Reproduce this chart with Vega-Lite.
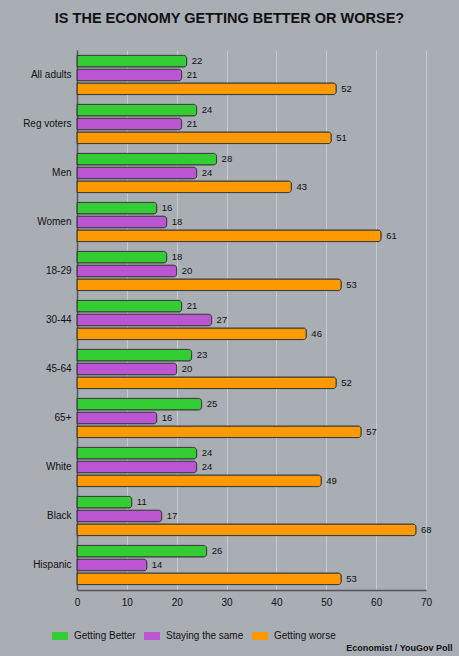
{
  "$schema": "https://vega.github.io/schema/vega-lite/v6.json",
  "autosize": "none",
  "width": 349,
  "height": 540,
  "padding": {"left": 77, "top": 50, "right": 33, "bottom": 66},
  "background": "#a9adb4",
  "title": {
    "text": "IS THE ECONOMY GETTING BETTER OR WORSE?",
    "font": "Liberation Sans",
    "fontSize": 14.5,
    "fontWeight": "bold",
    "color": "#111111",
    "anchor": "middle",
    "dx": -22,
    "offset": 24
  },
  "data": {
    "values": [
      {"group": "All adults", "answer": "Getting Better", "pct": 22},
      {"group": "All adults", "answer": "Staying the same", "pct": 21},
      {"group": "All adults", "answer": "Getting worse", "pct": 52},
      {"group": "Reg voters", "answer": "Getting Better", "pct": 24},
      {"group": "Reg voters", "answer": "Staying the same", "pct": 21},
      {"group": "Reg voters", "answer": "Getting worse", "pct": 51},
      {"group": "Men", "answer": "Getting Better", "pct": 28},
      {"group": "Men", "answer": "Staying the same", "pct": 24},
      {"group": "Men", "answer": "Getting worse", "pct": 43},
      {"group": "Women", "answer": "Getting Better", "pct": 16},
      {"group": "Women", "answer": "Staying the same", "pct": 18},
      {"group": "Women", "answer": "Getting worse", "pct": 61},
      {"group": "18-29", "answer": "Getting Better", "pct": 18},
      {"group": "18-29", "answer": "Staying the same", "pct": 20},
      {"group": "18-29", "answer": "Getting worse", "pct": 53},
      {"group": "30-44", "answer": "Getting Better", "pct": 21},
      {"group": "30-44", "answer": "Staying the same", "pct": 27},
      {"group": "30-44", "answer": "Getting worse", "pct": 46},
      {"group": "45-64", "answer": "Getting Better", "pct": 23},
      {"group": "45-64", "answer": "Staying the same", "pct": 20},
      {"group": "45-64", "answer": "Getting worse", "pct": 52},
      {"group": "65+", "answer": "Getting Better", "pct": 25},
      {"group": "65+", "answer": "Staying the same", "pct": 16},
      {"group": "65+", "answer": "Getting worse", "pct": 57},
      {"group": "White", "answer": "Getting Better", "pct": 24},
      {"group": "White", "answer": "Staying the same", "pct": 24},
      {"group": "White", "answer": "Getting worse", "pct": 49},
      {"group": "Black", "answer": "Getting Better", "pct": 11},
      {"group": "Black", "answer": "Staying the same", "pct": 17},
      {"group": "Black", "answer": "Getting worse", "pct": 68},
      {"group": "Hispanic", "answer": "Getting Better", "pct": 26},
      {"group": "Hispanic", "answer": "Staying the same", "pct": 14},
      {"group": "Hispanic", "answer": "Getting worse", "pct": 53}
    ]
  },
  "encoding": {
    "y": {
      "field": "group",
      "type": "nominal",
      "sort": null,
      "title": null,
      "scale": {"paddingInner": 0.2, "paddingOuter": 0.11},
      "axis": {
        "ticks": false,
        "labelPadding": 6,
        "labelFont": "Liberation Sans",
        "labelFontSize": 10,
        "labelColor": "#111111",
        "domainColor": "#555555",
        "domainWidth": 1.5
      }
    },
    "yOffset": {
      "field": "answer",
      "type": "nominal",
      "sort": ["Getting Better", "Staying the same", "Getting worse"],
      "scale": {"paddingInner": 0.16}
    },
    "x": {
      "field": "pct",
      "type": "quantitative",
      "scale": {"domain": [0, 70]},
      "axis": {
        "values": [0, 10, 20, 30, 40, 50, 60, 70],
        "ticks": false,
        "labelFlush": false,
        "labelPadding": 7,
        "labelFont": "Liberation Sans",
        "labelFontSize": 10,
        "labelColor": "#111111",
        "domainColor": "#555555",
        "domainWidth": 1.5,
        "gridColor": "#c6c9cf",
        "gridWidth": 1,
        "title": "Economist / YouGov Poll",
        "titleFont": "Liberation Sans",
        "titleFontSize": 9,
        "titleFontWeight": "bold",
        "titleColor": "#111111",
        "titleAnchor": "end",
        "titleAlign": "right",
        "titleBaseline": "alphabetic",
        "titleX": 375,
        "titleY": 60
      }
    }
  },
  "layer": [
    {
      "mark": {
        "type": "bar",
        "stroke": "#3a3a3a",
        "strokeWidth": 1,
        "cornerRadiusEnd": 3
      },
      "encoding": {
        "color": {
          "field": "answer",
          "type": "nominal",
          "sort": ["Getting Better", "Staying the same", "Getting worse"],
          "scale": {
            "domain": ["Getting Better", "Staying the same", "Getting worse"],
            "range": ["#33cc33", "#bb55d4", "#ff9900"]
          },
          "legend": {
            "orient": "none",
            "direction": "horizontal",
            "legendX": -25,
            "legendY": 578,
            "title": null,
            "symbolType": "M-1,-0.5L1,-0.5L1,0.5L-1,0.5Z",
            "symbolSize": 256,
            "symbolStrokeWidth": 0,
            "symbolOpacity": 1,
            "labelFont": "Liberation Sans",
            "labelFontSize": 10,
            "labelColor": "#111111",
            "labelOffset": 6,
            "columnPadding": 8
          }
        }
      }
    },
    {
      "mark": {
        "type": "text",
        "align": "left",
        "baseline": "middle",
        "dx": 5,
        "font": "Liberation Sans",
        "fontSize": 9.5,
        "color": "#111111"
      },
      "encoding": {
        "text": {"field": "pct", "type": "quantitative"}
      }
    }
  ],
  "config": {
    "view": {"stroke": null}
  }
}
